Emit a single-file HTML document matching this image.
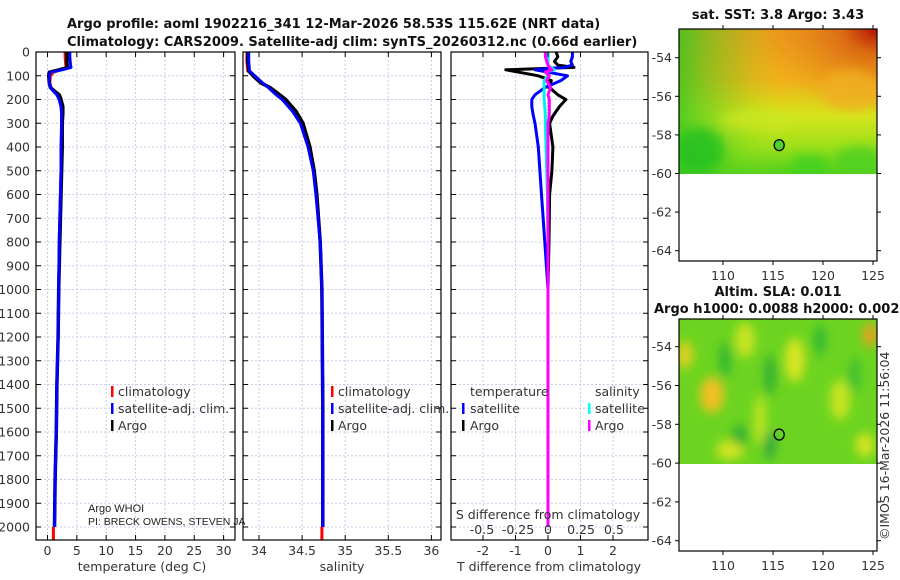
<!DOCTYPE html>
<html><head><meta charset="utf-8">
<style>
html,body{margin:0;padding:0;background:#fff;}
svg{display:block;font-family:"DejaVu Sans","Liberation Sans",sans-serif;}
.t{font-size:12.5px;fill:#333;}
.b{font-weight:bold;font-size:13px;fill:#111;}
</style></head>
<body>
<svg id="chart" width="900" height="580" viewBox="0 0 900 580">
<defs>
 <linearGradient id="sstV" x1="0" y1="0" x2="0" y2="1">
  <stop offset="0" stop-color="#ec9a1c"/><stop offset="0.35" stop-color="#f0b018"/>
  <stop offset="0.6" stop-color="#d6e41c"/><stop offset="0.8" stop-color="#a0e01a"/>
  <stop offset="1" stop-color="#50d01c"/>
 </linearGradient>
 <linearGradient id="sstH" x1="0" y1="0" x2="1" y2="0">
  <stop offset="0" stop-color="#30c820" stop-opacity="0.8"/><stop offset="0.3" stop-color="#60d020" stop-opacity="0.3"/>
  <stop offset="0.5" stop-color="#a0e020" stop-opacity="0"/>
 </linearGradient>
 <radialGradient id="sstR" cx="1" cy="0" r="0.6">
  <stop offset="0" stop-color="#b01000"/><stop offset="0.3" stop-color="#d86010" stop-opacity="0.8"/>
  <stop offset="1" stop-color="#e89020" stop-opacity="0"/>
 </radialGradient>
 <filter id="blur" x="-50%" y="-50%" width="200%" height="200%"><feGaussianBlur stdDeviation="5"/></filter>
 <clipPath id="c1"><rect x="36" y="52" width="199" height="488"/></clipPath>
 <clipPath id="c2"><rect x="243" y="52" width="198" height="488"/></clipPath>
 <clipPath id="c3"><rect x="451" y="52" width="197" height="488"/></clipPath>
 <clipPath id="cpi"><rect x="0" y="490" width="245" height="50"/></clipPath>
 <clipPath id="cm1"><rect x="679" y="29" width="198" height="145"/></clipPath>
 <clipPath id="cm2"><rect x="679" y="319" width="198" height="145"/></clipPath>
</defs>

<text class="b" x="67" y="28">Argo profile: aoml 1902216_341 12-Mar-2026 58.53S 115.62E (NRT data)</text>
<text class="b" x="67" y="46">Climatology: CARS2009. Satellite-adj clim: synTS_20260312.nc (0.66d earlier)</text>

<g id="grid"></g>
<g id="lines"></g>
<g id="axes"></g>

<g class="t">
 <rect x="111" y="386" width="2.5" height="11" fill="#f00"/><text x="118" y="396">climatology</text>
 <rect x="111" y="403" width="2.5" height="11" fill="#00f"/><text x="118" y="413">satellite-adj. clim.</text>
 <rect x="111" y="420" width="2.5" height="11" fill="#000"/><text x="118" y="430">Argo</text>
</g>
<g class="t">
 <rect x="331" y="386" width="2.5" height="11" fill="#f00"/><text x="338" y="396">climatology</text>
 <rect x="331" y="403" width="2.5" height="11" fill="#00f"/><text x="338" y="413">satellite-adj. clim.</text>
 <rect x="331" y="420" width="2.5" height="11" fill="#000"/><text x="338" y="430">Argo</text>
</g>
<g class="t">
 <text x="470" y="396">temperature</text><text x="595" y="396">salinity</text>
 <rect x="462" y="403" width="2.5" height="11" fill="#00f"/><text x="470" y="413">satellite</text>
 <rect x="462" y="420" width="2.5" height="11" fill="#000"/><text x="470" y="430">Argo</text>
 <rect x="588" y="403" width="2.5" height="11" fill="#0ff"/><text x="595" y="413">satellite</text>
 <rect x="588" y="420" width="2.5" height="11" fill="#f0f"/><text x="595" y="430">Argo</text>
</g>
<g clip-path="url(#cpi)" style="font-family:'Liberation Sans',sans-serif">
<text x="88" y="512" font-size="11" fill="#222">Argo WHOI</text>
<text x="88" y="525" font-size="10.5" fill="#222">PI: BRECK OWENS, STEVEN JA</text>
</g>

<text class="t" x="548" y="519" text-anchor="middle">S difference from climatology</text>
<g class="t" text-anchor="middle">
 <text x="482" y="534">-0.5</text><text x="518" y="534">-0.25</text><text x="548" y="534">0</text><text x="581" y="534">0.25</text><text x="614" y="534">0.5</text>
</g>

<text class="t" x="142" y="571" text-anchor="middle">temperature (deg C)</text>
<text class="t" x="342" y="571" text-anchor="middle">salinity</text>
<text class="t" x="549" y="571" text-anchor="middle">T difference from climatology</text>

<text class="b" x="778" y="19" text-anchor="middle">sat. SST: 3.8 Argo: 3.43</text>
<g clip-path="url(#cm1)">
 <rect x="679" y="29" width="198" height="145" fill="url(#sstV)"/>
 <rect x="679" y="29" width="198" height="145" fill="url(#sstH)"/>
 <rect x="679" y="29" width="198" height="145" fill="url(#sstR)"/>
 <g filter="url(#blur)" opacity="0.8">
  <ellipse cx="700" cy="150" rx="25" ry="22" fill="#20c020"/>
  <ellipse cx="860" cy="160" rx="25" ry="14" fill="#50d020"/>
  <ellipse cx="810" cy="165" rx="20" ry="10" fill="#40d020"/>
  <ellipse cx="760" cy="120" rx="40" ry="10" fill="#c8e620"/>
  <ellipse cx="850" cy="90" rx="30" ry="20" fill="#f0b020"/>
 </g>
</g>
<text class="b" x="778" y="296" text-anchor="middle">Altim. SLA: 0.011</text>
<text class="b" x="654" y="313">Argo h1000: 0.0088 h2000: 0.002</text>
<g clip-path="url(#cm2)">
 <rect x="679" y="319" width="198" height="145" fill="#6cd420"/>
 <g filter="url(#blur)">
  <ellipse cx="712" cy="395" rx="12" ry="18" fill="#f0c020"/>
  <ellipse cx="685" cy="355" rx="8" ry="14" fill="#e0d020"/>
  <ellipse cx="745" cy="340" rx="10" ry="18" fill="#c8e420"/>
  <ellipse cx="795" cy="360" rx="10" ry="22" fill="#d8e420"/>
  <ellipse cx="840" cy="400" rx="10" ry="20" fill="#c8e420"/>
  <ellipse cx="870" cy="335" rx="7" ry="12" fill="#e8a020"/>
  <ellipse cx="760" cy="420" rx="6" ry="25" fill="#c0e420"/>
  <ellipse cx="730" cy="450" rx="14" ry="10" fill="#d0e420"/>
  <ellipse cx="865" cy="445" rx="9" ry="12" fill="#d8e420"/>
  <ellipse cx="725" cy="360" rx="6" ry="18" fill="#30b830"/>
  <ellipse cx="770" cy="375" rx="6" ry="20" fill="#30b030"/>
  <ellipse cx="770" cy="445" rx="6" ry="15" fill="#30a840"/>
  <ellipse cx="740" cy="435" rx="8" ry="10" fill="#30b030"/>
  <ellipse cx="820" cy="340" rx="6" ry="16" fill="#30b830"/>
  <ellipse cx="855" cy="375" rx="6" ry="18" fill="#40c030"/>
 </g>
</g>
<g id="maps"></g>
<text class="t" transform="translate(889,540) rotate(-90)" font-size="12" fill="#111">©IMOS 16-Mar-2026 11:56:04</text>
</svg>

<script>
const depthTicks = [0,100,200,300,400,500,600,700,800,900,1000,1100,1200,1300,1400,1500,1600,1700,1800,1900,2000];
const tempTicks = [0,5,10,15,20,25,30];
const salTicks = [34,34.5,35,35.5,36];
const tdiffTicks = [-2,-1,0,1,2];
const latTicks = [-54,-56,-58,-60,-62,-64];
const lonTicks = [110,115,120,125];

const tDepths = [0,20,50,65,75,85,100,130,150,165,180,200,230,260,300,400,500,600,800,1000,1200,1400,1600,1800,2000];
const argoT = [3.3,3.3,3.3,3.4,2.0,0.3,0.2,0.3,0.5,1.2,2.0,2.3,2.6,2.6,2.5,2.5,2.4,2.3,2.1,1.9,1.8,1.6,1.5,1.3,1.2];
const climT = [3.0,3.0,3.1,3.2,2.3,1.0,0.5,0.4,0.6,1.2,1.8,2.2,2.4,2.4,2.4,2.4,2.3,2.2,2.0,1.9,1.8,1.6,1.5,1.3,1.2];
const satT  = [3.8,3.8,3.9,4.0,2.5,0.5,0.3,0.3,0.5,1.0,1.6,2.0,2.3,2.4,2.4,2.3,2.3,2.2,2.0,1.9,1.8,1.6,1.5,1.3,1.2];

const sDepths = [0,40,80,100,130,150,180,200,250,300,400,500,600,800,1000,1500,2000];
const argoS = [33.87,33.87,33.88,33.93,34.02,34.13,34.24,34.31,34.43,34.51,34.59,34.64,34.67,34.71,34.73,34.74,34.74];
const climS = [33.86,33.86,33.87,33.95,34.04,34.12,34.22,34.29,34.41,34.49,34.58,34.63,34.67,34.71,34.73,34.74,34.74];
const satS  = [33.88,33.88,33.89,33.95,34.04,34.11,34.20,34.27,34.39,34.48,34.57,34.63,34.66,34.71,34.73,34.74,34.74];

const dDepths = [0,20,40,55,65,75,85,100,120,150,180,200,230,270,300,400,500,600,800,1000,1500,2000];
const argoTd = [0.25,0.3,0.2,0.3,0.8,-1.3,-0.9,-0.3,0.1,0.05,0.3,0.55,0.35,0.15,0.05,0.15,0.12,0.05,0.03,0,0,0];
const satTd  = [0.75,0.75,0.7,0.75,0.5,-0.4,0.0,0.6,0.4,-0.1,-0.4,-0.5,-0.5,-0.45,-0.4,-0.3,-0.25,-0.2,-0.1,0,0,0];
const satSd  = [0,0,0,0,0.02,0.05,-0.02,0,-0.03,-0.03,-0.03,-0.03,-0.025,-0.02,-0.02,-0.015,-0.01,-0.005,0,0,0,0];
const argoSd = [-0.02,-0.02,-0.01,0,0.01,0.03,-0.02,0.01,-0.01,0.02,0,0.01,0.01,0.01,0,0,0,0,0,0,0,0];

const floatLon = [115.62];
const floatLat = [-58.53];

const NS='http://www.w3.org/2000/svg';
const yD = d => 52 + d*0.2375;
const xT = v => 47.5 + v*5.87;
const xS = v => 259 + (v-34)*86.2;
const xTd = v => 548 + v*32.5;
const xSd = v => 548 + v*130;
const mapX = lon => 679 + (lon-105.6)*10;
const latY1 = lat => 57.7 + (-54-lat)*19.3;
const latY2 = lat => 346.7 + (-54-lat)*19.4;

function el(tag, attrs, parent){const e=document.createElementNS(NS,tag);for(const k in attrs)e.setAttribute(k,attrs[k]);parent.appendChild(e);return e;}
const grid=document.getElementById('grid'), lines=document.getElementById('lines'), axes=document.getElementById('axes'), maps=document.getElementById('maps');

const panels=[{x0:36,x1:235,ticks:tempTicks,sx:xT,clip:'c1',name:'temperature'},
              {x0:243,x1:441,ticks:salTicks,sx:xS,clip:'c2',name:'salinity'},
              {x0:451,x1:648,ticks:tdiffTicks,sx:xTd,clip:'c3',name:'tdiff'}];
panels.forEach((p,i)=>{
  depthTicks.forEach(d=>{
    const g=el('line',{x1:p.x0,x2:p.x1,y1:yD(d),y2:yD(d),stroke:'#c8cce8','stroke-dasharray':'2,2','stroke-width':1},grid);
    
    
    el('line',{x1:p.x0,x2:p.x0+5,y1:yD(d),y2:yD(d),stroke:'#000'},axes);
    el('line',{x1:p.x1,x2:p.x1-5,y1:yD(d),y2:yD(d),stroke:'#000'},axes);
    if(i===0){const t=el('text',{x:30,y:yD(d)+4.5,'text-anchor':'end',class:'t'},axes);t.textContent=d;
      
      }
  });
  p.ticks.forEach(v=>{
    const x=p.sx(v);
    el('line',{x1:x,x2:x,y1:52,y2:540,stroke:'#c8cce8','stroke-dasharray':'2,2'},grid);
    el('line',{x1:x,x2:x,y1:540,y2:535,stroke:'#000'},axes);
    el('line',{x1:x,x2:x,y1:52,y2:57,stroke:'#000'},axes);
    const t=el('text',{x:x,y:555,'text-anchor':'middle',class:'t'},axes);t.textContent=v;
    
    
  });
  const fr=el('rect',{x:p.x0,y:52,width:p.x1-p.x0,height:488,fill:'none',stroke:'#000','stroke-width':1.2},axes);
  
  
});

function series(depths, vals, sx, color, clip, name, w){
  const pts=depths.map((d,i)=>sx(vals[i]).toFixed(1)+','+yD(d).toFixed(1)).join(' ');
  const pl=el('polyline',{points:pts,fill:'none',stroke:color,'stroke-width':w||3,'stroke-linejoin':'round','clip-path':'url(#'+clip+')'},lines);
  
  
}
el('line',{x1:xTd(0),x2:xTd(0),y1:52,y2:540,stroke:'#060','stroke-dasharray':'1,2'},lines);
series(tDepths,climT,xT,'#f00','c1','climatology-temperature-line');
series([2000,2060],[1.0,1.0],xT,'#f00','c1','climatology-temperature-deep');
series(tDepths,argoT,xT,'#000','c1','argo-temperature-line',3.5);
series(tDepths,satT,xT,'#00f','c1','satellite-temperature-line');
series(sDepths,climS,xS,'#f00','c2','climatology-salinity-line');
series([2000,2060],[34.73,34.73],xS,'#f00','c2','climatology-salinity-deep');
series(sDepths,argoS,xS,'#000','c2','argo-salinity-line',3.5);
series(sDepths,satS,xS,'#00f','c2','satellite-salinity-line');
series(dDepths,argoTd,xTd,'#000','c3','argo-tdiff-line');
series(dDepths,satTd,xTd,'#00f','c3','satellite-tdiff-line');
series(dDepths,satSd,xSd,'#0ee','c3','satellite-sdiff-line');
series(dDepths,argoSd,xSd,'#f0f','c3','argo-sdiff-line');

[[29,261,latY1,'sst'],[319,551,latY2,'sla']].forEach(([y0,y1,ly,nm])=>{
  latTicks.forEach(l=>{
    const y=ly(l);
    el('line',{x1:679,x2:675,y1:y,y2:y,stroke:'#000'},maps);
    el('line',{x1:877,x2:881,y1:y,y2:y,stroke:'#000'},maps);
    const t=el('text',{x:672,y:y+4.5,'text-anchor':'end',class:'t'},maps);t.textContent=l;
    
    
  });
  lonTicks.forEach(l=>{
    const x=mapX(l);
    el('line',{x1:x,x2:x,y1:y1,y2:y1+4,stroke:'#000'},maps);
    el('line',{x1:x,x2:x,y1:y0,y2:y0-4,stroke:'#000'},maps);
    const t=el('text',{x:x,y:y1+19,'text-anchor':'middle',class:'t'},maps);t.textContent=l;
    
    
  });
  const fr=el('rect',{x:679,y:y0,width:198,height:y1-y0,fill:'none',stroke:'#000','stroke-width':1.2},maps);
  
  
  const c=el('ellipse',{cx:mapX(floatLon[0]),cy:ly(floatLat[0]),rx:5,ry:5.5,fill:nm==='sst'?'#50d030':'none',stroke:'#000','stroke-width':1.3},maps);
  
  
});
</script>
</body></html>
